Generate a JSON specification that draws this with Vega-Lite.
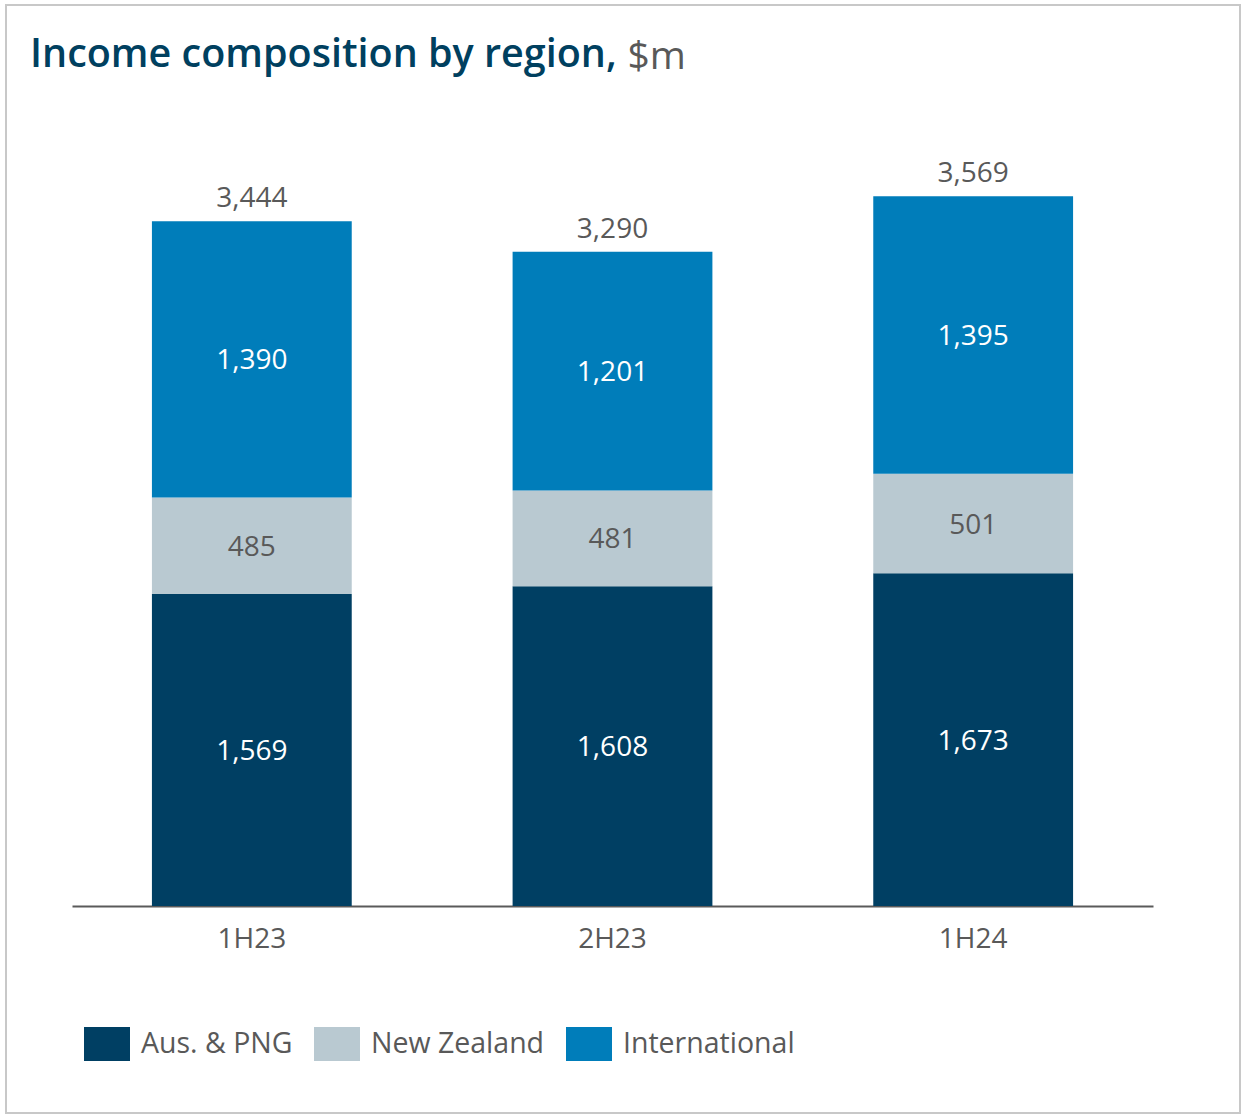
{
  "$schema": "https://vega.github.io/schema/vega-lite/v6.json",
  "width": 1234,
  "height": 1108,
  "autosize": {"type": "none"},
  "padding": {"left": 6, "top": 5, "right": 2, "bottom": 3},
  "background": "white",
  "title": {
    "text": "Income composition by region,",
    "anchor": "start",
    "frame": "group",
    "font": "Open Sans",
    "fontSize": 39.5,
    "fontWeight": 600,
    "color": "#00405f",
    "baseline": "alphabetic",
    "offset": -101,
    "dx": 24
  },
  "config": {
    "view": {"stroke": "#c8c8c8", "strokeWidth": 2},
    "font": "Open Sans"
  },
  "datasets": {
    "segments": [
      {"period": "1H23", "region": "Aus. & PNG", "value": 1569, "order": 1},
      {"period": "1H23", "region": "New Zealand", "value": 485, "order": 2},
      {"period": "1H23", "region": "International", "value": 1390, "order": 3},
      {"period": "2H23", "region": "Aus. & PNG", "value": 1608, "order": 1},
      {"period": "2H23", "region": "New Zealand", "value": 481, "order": 2},
      {"period": "2H23", "region": "International", "value": 1201, "order": 3},
      {"period": "1H24", "region": "Aus. & PNG", "value": 1673, "order": 1},
      {"period": "1H24", "region": "New Zealand", "value": 501, "order": 2},
      {"period": "1H24", "region": "International", "value": 1395, "order": 3}
    ],
    "totals": [
      {"period": "1H23", "total": 3444},
      {"period": "2H23", "total": 3290},
      {"period": "1H24", "total": 3569}
    ]
  },
  "encoding": {
    "x": {
      "field": "period",
      "type": "nominal",
      "sort": ["1H23", "2H23", "1H24"],
      "scale": {"range": [66, 1147], "paddingInner": 0.446, "paddingOuter": 0.2216},
      "axis": {
        "orient": "bottom",
        "offset": -207,
        "title": "$m",
        "titleX": 621,
        "titleY": -838,
        "titleAngle": 0,
        "titleAlign": "left",
        "titleBaseline": "alphabetic",
        "titleFont": "Open Sans",
        "titleFontSize": 39,
        "titleFontWeight": "normal",
        "titleColor": "#595959",
        "domainColor": "#5a5a5a",
        "domainWidth": 2,
        "ticks": false,
        "grid": false,
        "labelAngle": 0,
        "labelFont": "Open Sans",
        "labelFontSize": 28,
        "labelColor": "#595959",
        "labelPadding": 19
      }
    }
  },
  "layer": [
    {
      "data": {"name": "segments"},
      "transform": [
        {"stack": "value", "groupby": ["period"], "sort": [{"field": "order", "order": "ascending"}], "as": ["v0", "v1"]},
        {"calculate": "(datum.v0 + datum.v1) / 2", "as": "mid"}
      ],
      "layer": [
        {
          "mark": {"type": "bar"},
          "encoding": {
            "y": {
              "field": "v0",
              "type": "quantitative",
              "scale": {"domain": [-1041, 4531], "nice": false, "zero": false},
              "axis": null
            },
            "y2": {"field": "v1"},
            "color": {
              "field": "region",
              "type": "nominal",
              "scale": {
                "domain": ["Aus. & PNG", "New Zealand", "International"],
                "range": ["#003f63", "#b9c9d1", "#007dba"]
              },
              "legend": {
                "orient": "none",
                "legendX": 78,
                "legendY": 1016,
                "direction": "horizontal",
                "title": null,
                "padding": 0,
                "symbolType": "M-1,-0.739L1,-0.739L1,0.739L-1,0.739Z",
                "symbolSize": 2116,
                "symbolStrokeWidth": 0,
                "symbolOpacity": 1,
                "labelFont": "Open Sans",
                "labelFontSize": 28.5,
                "labelColor": "#595959",
                "labelOffset": 11,
                "labelLimit": 400,
                "columnPadding": 21
              }
            }
          }
        },
        {
          "mark": {"type": "text", "font": "Open Sans", "fontSize": 28, "baseline": "middle", "align": "center", "dy": 2},
          "encoding": {
            "y": {"field": "mid", "type": "quantitative", "scale": {"domain": [-1041, 4531], "nice": false, "zero": false}, "axis": null},
            "text": {"field": "value", "type": "quantitative", "format": ","},
            "color": {
              "condition": {"test": "datum.region === 'New Zealand'", "value": "#595959"},
              "value": "#ffffff"
            }
          }
        }
      ]
    },
    {
      "data": {"name": "totals"},
      "mark": {"type": "text", "font": "Open Sans", "fontSize": 28, "baseline": "alphabetic", "align": "center", "dy": -14, "color": "#595959"},
      "encoding": {
        "y": {"field": "total", "type": "quantitative", "scale": {"domain": [-1041, 4531], "nice": false, "zero": false}, "axis": null},
        "text": {"field": "total", "type": "quantitative", "format": ","}
      }
    }
  ]
}
